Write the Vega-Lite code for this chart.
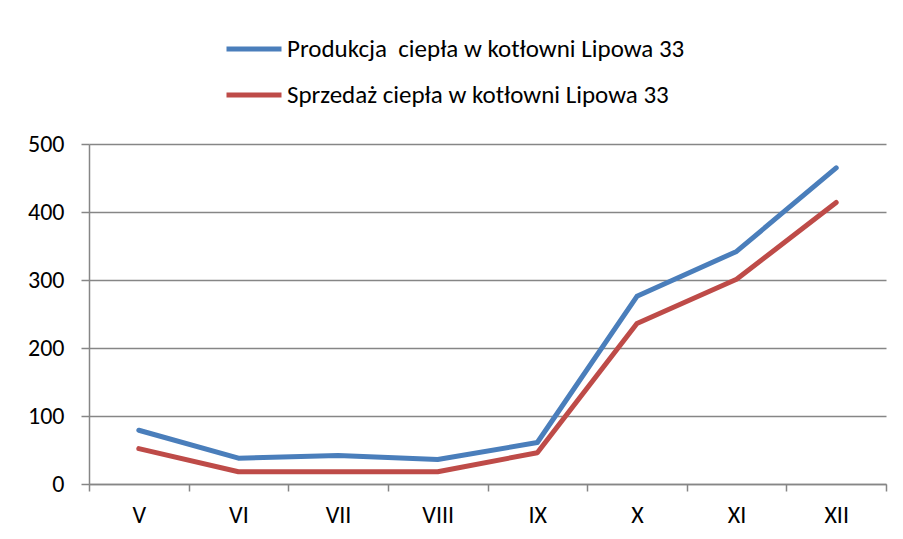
{
  "$schema": "https://vega.github.io/schema/vega-lite/v6.json",
  "width": 797,
  "height": 340,
  "autosize": {"type": "none"},
  "padding": {"left": 89, "top": 144, "right": 17, "bottom": 55},
  "background": "white",
  "config": {
    "font": "Carlito, Lato, sans-serif",
    "view": {"stroke": null},
    "axis": {"labelFontSize": 24, "labelFont": "Carlito, Lato, sans-serif", "labelColor": "black"}
  },
  "data": {
    "values": [
      {"m": "V", "s": "Produkcja\u00a0 ciepła w kotłowni Lipowa 33", "v": 79},
      {"m": "VI", "s": "Produkcja\u00a0 ciepła w kotłowni Lipowa 33", "v": 38},
      {"m": "VII", "s": "Produkcja\u00a0 ciepła w kotłowni Lipowa 33", "v": 42},
      {"m": "VIII", "s": "Produkcja\u00a0 ciepła w kotłowni Lipowa 33", "v": 36},
      {"m": "IX", "s": "Produkcja\u00a0 ciepła w kotłowni Lipowa 33", "v": 61},
      {"m": "X", "s": "Produkcja\u00a0 ciepła w kotłowni Lipowa 33", "v": 276},
      {"m": "XI", "s": "Produkcja\u00a0 ciepła w kotłowni Lipowa 33", "v": 342},
      {"m": "XII", "s": "Produkcja\u00a0 ciepła w kotłowni Lipowa 33", "v": 465},
      {"m": "V", "s": "Sprzedaż ciepła w kotłowni Lipowa 33", "v": 52},
      {"m": "VI", "s": "Sprzedaż ciepła w kotłowni Lipowa 33", "v": 18},
      {"m": "VII", "s": "Sprzedaż ciepła w kotłowni Lipowa 33", "v": 18},
      {"m": "VIII", "s": "Sprzedaż ciepła w kotłowni Lipowa 33", "v": 18},
      {"m": "IX", "s": "Sprzedaż ciepła w kotłowni Lipowa 33", "v": 46},
      {"m": "X", "s": "Sprzedaż ciepła w kotłowni Lipowa 33", "v": 236},
      {"m": "XI", "s": "Sprzedaż ciepła w kotłowni Lipowa 33", "v": 301},
      {"m": "XII", "s": "Sprzedaż ciepła w kotłowni Lipowa 33", "v": 414}
    ]
  },
  "mark": {"type": "line", "strokeWidth": 5, "strokeCap": "round", "strokeJoin": "round"},
  "encoding": {
    "x": {
      "field": "m", "type": "nominal", "sort": null, "title": null,
      "scale": {"type": "band", "paddingInner": 0, "paddingOuter": 0},
      "axis": {
        "labelAngle": 0, "labelFontSize": 24,
        "domainColor": "#868686", "domainWidth": 1.5,
        "tickColor": "#868686", "tickSize": 7, "tickWidth": 1.5,
        "tickBand": "extent", "labelPadding": 12, "grid": false
      }
    },
    "y": {
      "field": "v", "type": "quantitative", "title": null,
      "scale": {"domain": [0, 500], "nice": false},
      "axis": {
        "values": [0, 100, 200, 300, 400, 500],
        "labelFontSize": 24, "labelPadding": 17,
        "domainColor": "#868686", "domainWidth": 1.5,
        "tickColor": "#868686", "tickSize": 8, "tickWidth": 1.5,
        "grid": true, "gridColor": "#868686", "gridWidth": 1.5
      }
    },
    "color": {
      "field": "s", "type": "nominal", "title": null,
      "scale": {
        "domain": ["Produkcja\u00a0 ciepła w kotłowni Lipowa 33", "Sprzedaż ciepła w kotłowni Lipowa 33"],
        "range": ["#4A7EBB", "#BE4B48"]
      },
      "legend": {
        "orient": "none", "legendX": 135, "legendY": -125,
        "direction": "vertical",
        "symbolType": "stroke", "symbolSize": 3025, "symbolStrokeWidth": 5,
        "labelFontSize": 25, "labelColor": "black", "labelLimit": 0,
        "labelOffset": 3, "rowPadding": 3
      }
    }
  }
}
